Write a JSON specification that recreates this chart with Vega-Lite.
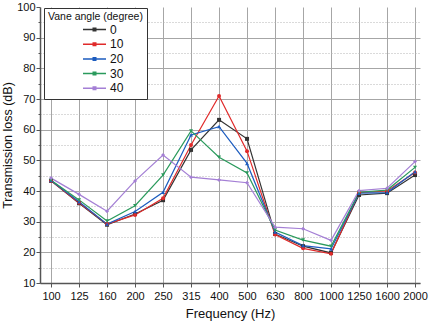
{
  "$schema": "https://vega.github.io/schema/vega-lite/v6.json",
  "width": 380,
  "height": 276,
  "autosize": {"type": "none"},
  "padding": {"left": 40, "top": 7, "right": 9, "bottom": 48},
  "background": "white",
  "config": {
    "font": "Liberation Sans",
    "view": {"stroke": null},
    "axis": {"labelColor": "#111", "titleColor": "#111", "titleFontWeight": "normal"}
  },
  "data": {
    "values": [
      {"freq": 100, "angle": "0", "tl": 43.3}, {"freq": 100, "angle": "10", "tl": 43.3}, {"freq": 100, "angle": "20", "tl": 43.4}, {"freq": 100, "angle": "30", "tl": 43.5}, {"freq": 100, "angle": "40", "tl": 44.2},
      {"freq": 125, "angle": "0", "tl": 36.0}, {"freq": 125, "angle": "10", "tl": 36.2}, {"freq": 125, "angle": "20", "tl": 36.5}, {"freq": 125, "angle": "30", "tl": 37.1}, {"freq": 125, "angle": "40", "tl": 38.9},
      {"freq": 160, "angle": "0", "tl": 29.0}, {"freq": 160, "angle": "10", "tl": 29.2}, {"freq": 160, "angle": "20", "tl": 29.2}, {"freq": 160, "angle": "30", "tl": 30.2}, {"freq": 160, "angle": "40", "tl": 33.4},
      {"freq": 200, "angle": "0", "tl": 32.5}, {"freq": 200, "angle": "10", "tl": 32.2}, {"freq": 200, "angle": "20", "tl": 33.3}, {"freq": 200, "angle": "30", "tl": 35.2}, {"freq": 200, "angle": "40", "tl": 43.3},
      {"freq": 250, "angle": "0", "tl": 37.0}, {"freq": 250, "angle": "10", "tl": 37.6}, {"freq": 250, "angle": "20", "tl": 39.6}, {"freq": 250, "angle": "30", "tl": 45.2}, {"freq": 250, "angle": "40", "tl": 51.7},
      {"freq": 315, "angle": "0", "tl": 53.4}, {"freq": 315, "angle": "10", "tl": 55.0}, {"freq": 315, "angle": "20", "tl": 58.3}, {"freq": 315, "angle": "30", "tl": 59.6}, {"freq": 315, "angle": "40", "tl": 44.5},
      {"freq": 400, "angle": "0", "tl": 63.2}, {"freq": 400, "angle": "10", "tl": 71.0}, {"freq": 400, "angle": "20", "tl": 61.0}, {"freq": 400, "angle": "30", "tl": 51.0}, {"freq": 400, "angle": "40", "tl": 43.6},
      {"freq": 500, "angle": "0", "tl": 57.0}, {"freq": 500, "angle": "10", "tl": 53.0}, {"freq": 500, "angle": "20", "tl": 49.0}, {"freq": 500, "angle": "30", "tl": 45.9}, {"freq": 500, "angle": "40", "tl": 42.7},
      {"freq": 630, "angle": "0", "tl": 26.0}, {"freq": 630, "angle": "10", "tl": 25.8}, {"freq": 630, "angle": "20", "tl": 26.6}, {"freq": 630, "angle": "30", "tl": 27.3}, {"freq": 630, "angle": "40", "tl": 28.2},
      {"freq": 800, "angle": "0", "tl": 22.0}, {"freq": 800, "angle": "10", "tl": 21.3}, {"freq": 800, "angle": "20", "tl": 22.2}, {"freq": 800, "angle": "30", "tl": 24.0}, {"freq": 800, "angle": "40", "tl": 27.7},
      {"freq": 1000, "angle": "0", "tl": 19.8}, {"freq": 1000, "angle": "10", "tl": 19.5}, {"freq": 1000, "angle": "20", "tl": 21.1}, {"freq": 1000, "angle": "30", "tl": 22.0}, {"freq": 1000, "angle": "40", "tl": 23.9},
      {"freq": 1250, "angle": "0", "tl": 38.7}, {"freq": 1250, "angle": "10", "tl": 39.5}, {"freq": 1250, "angle": "20", "tl": 39.3}, {"freq": 1250, "angle": "30", "tl": 39.6}, {"freq": 1250, "angle": "40", "tl": 40.1},
      {"freq": 1600, "angle": "0", "tl": 39.3}, {"freq": 1600, "angle": "10", "tl": 40.0}, {"freq": 1600, "angle": "20", "tl": 39.5}, {"freq": 1600, "angle": "30", "tl": 40.3}, {"freq": 1600, "angle": "40", "tl": 40.9},
      {"freq": 2000, "angle": "0", "tl": 45.2}, {"freq": 2000, "angle": "10", "tl": 46.0}, {"freq": 2000, "angle": "20", "tl": 46.3}, {"freq": 2000, "angle": "30", "tl": 47.7}, {"freq": 2000, "angle": "40", "tl": 49.6}
    ]
  },
  "layer": [
    {
      "mark": {"type": "line", "strokeWidth": 1.2},
      "encoding": {
        "x": {
          "field": "freq", "type": "ordinal",
          "scale": {"type": "point", "padding": 0.286, "align": 0.69},
          "axis": {
            "title": "Frequency (Hz)", "labelAngle": 0, "grid": true, "gridColor": "#a6a6a6", "gridWidth": 1,
            "domainColor": "#555", "domainWidth": 1.5, "tickColor": "#555", "tickSize": 4,
            "labelPadding": 3, "labelFontSize": 11, "titleFontSize": 13, "titlePadding": 6
          }
        },
        "y": {
          "field": "tl", "type": "quantitative",
          "scale": {"domain": [10, 100], "nice": false, "zero": false},
          "axis": {
            "title": "Transmission loss (dB)", "values": [10, 20, 30, 40, 50, 60, 70, 80, 90, 100],
            "grid": true, "gridColor": "#a6a6a6", "gridWidth": 1,
            "gridOpacity": {"condition": {"test": "datum.value == 100", "value": 0}, "value": 1},
            "domainColor": "#555", "domainWidth": 1.5, "tickColor": "#555", "tickSize": 4,
            "labelPadding": 1, "labelFontSize": 11, "titleFontSize": 12.5, "titlePadding": 2
          }
        },
        "color": {
          "field": "angle", "type": "nominal",
          "scale": {"domain": ["0", "10", "20", "30", "40"], "range": ["#333333", "#e02a2a", "#1c5cbf", "#2a9a5c", "#a47fd5"]},
          "legend": {
            "orient": "none", "legendX": 4, "legendY": 1,
            "title": "Vane angle (degree)", "titleFontSize": 10.5, "titleFontWeight": "normal", "titleColor": "#111",
            "labelFontSize": 12, "labelColor": "#111",
            "symbolType": "M-2.3,0H2.3M-0.25,-0.25H0.25V0.25H-0.25Z", "symbolSize": 100, "symbolStrokeWidth": 1.5,
            "symbolOffset": 40.5, "labelOffset": 9.5, "rowPadding": 2.7, "padding": 4, "titlePadding": 1,
            "strokeColor": "#333", "fillColor": "white", "cornerRadius": 0
          }
        }
      }
    },
    {
      "mark": {"type": "point", "filled": true, "size": 16, "opacity": 1},
      "encoding": {
        "x": {"field": "freq", "type": "ordinal"},
        "y": {
          "field": "tl", "type": "quantitative",
          "axis": {
            "orient": "left", "values": [15, 25, 35, 45, 55, 65, 75, 85, 95],
            "labels": false, "title": null, "domain": false, "tickSize": 2, "tickColor": "#555",
            "grid": true, "gridDash": [1, 2], "gridColor": "#b5b5b5"
          }
        },
        "color": {"field": "angle", "type": "nominal", "legend": null},
        "shape": {
          "field": "angle", "type": "nominal",
          "scale": {"domain": ["0", "10", "20", "30", "40"], "range": ["square", "circle", "triangle-up", "triangle-down", "diamond"]},
          "legend": null
        }
      }
    }
  ],
  "resolve": {
    "axis": {"y": "independent"},
    "legend": {"color": "independent", "shape": "independent"}
  }
}
